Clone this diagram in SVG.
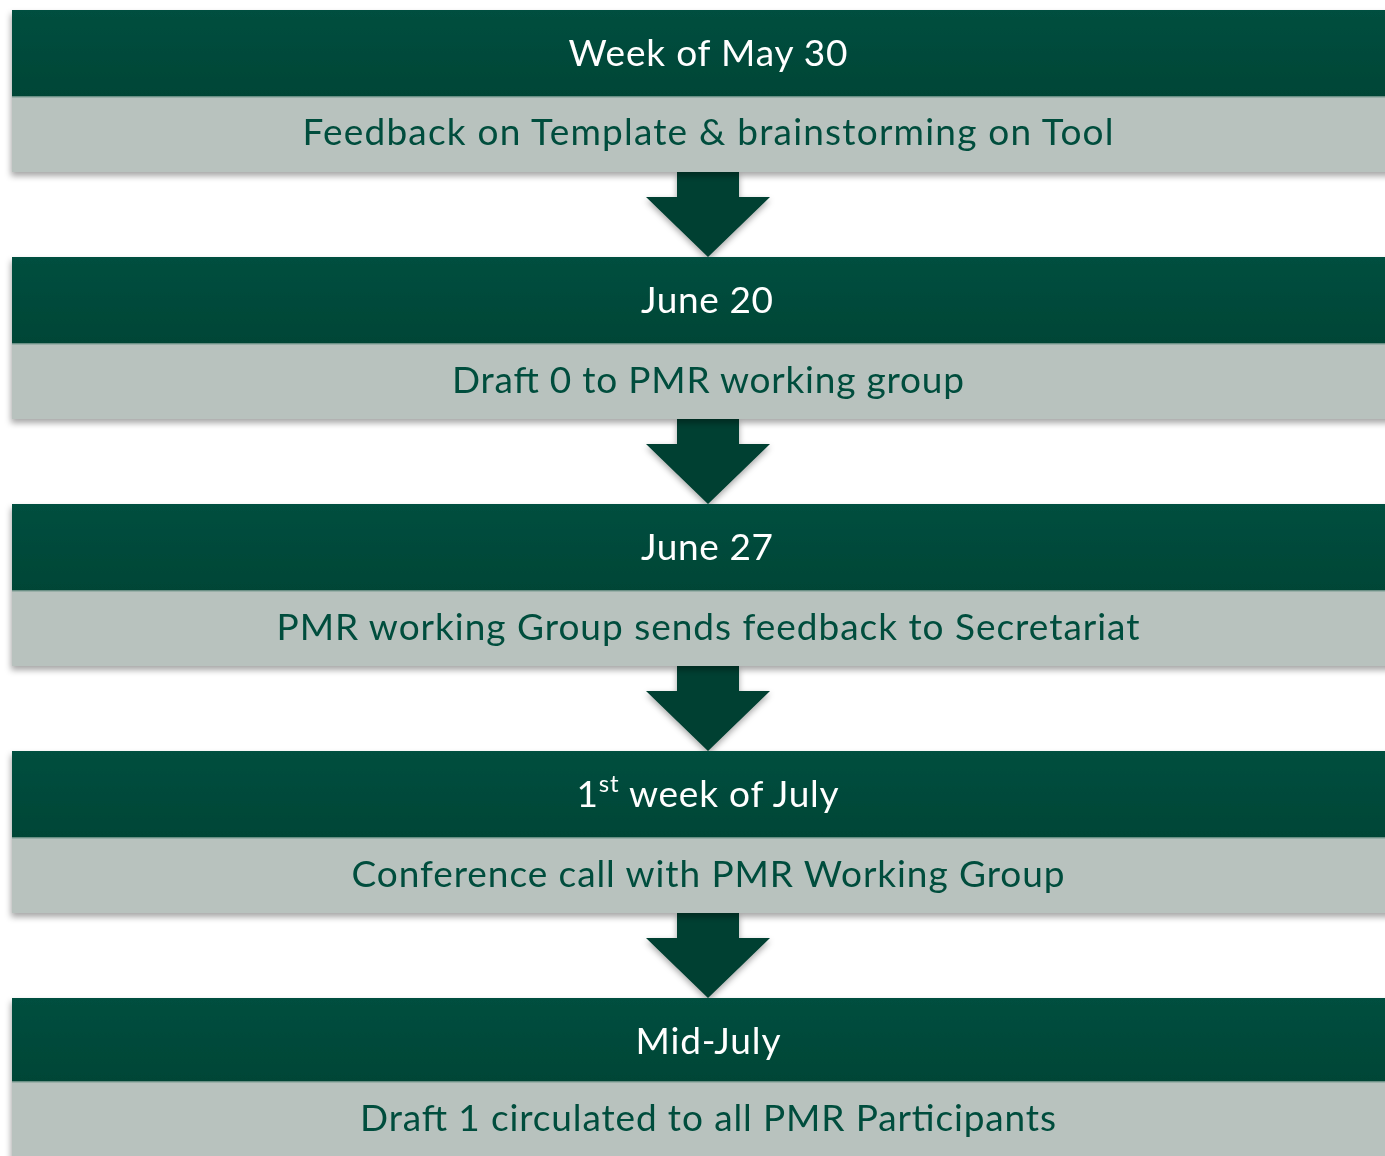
<svg xmlns="http://www.w3.org/2000/svg" width="1385" height="1156" viewBox="0 0 1385 1156">
  <defs>
    <linearGradient id="darkGrad" x1="0" y1="0" x2="0" y2="1">
      <stop offset="0" stop-color="#034F3F"/>
      <stop offset="1" stop-color="#024536"/>
    </linearGradient>
    <filter id="shadow" x="-5%" y="-20%" width="110%" height="150%">
      <feDropShadow dx="-1" dy="4" stdDeviation="3" flood-color="#000" flood-opacity="0.35"/>
    </filter>
    <filter id="arrowShadow" x="-20%" y="-20%" width="140%" height="140%">
      <feDropShadow dx="0" dy="3" stdDeviation="3" flood-color="#000" flood-opacity="0.35"/>
    </filter>
  </defs>
  <style>
    .hdr { fill: url(#darkGrad); }
    .body { fill: #B8C2BE; }
    .sep { stroke: #8FA8A0; stroke-width: 1.5; }
    .hdrText { font-family: Lato, "Open Sans", sans-serif; font-size: 37px; fill: #FFFFFF; text-anchor: middle; }
    .bodyText { font-family: Lato, "Open Sans", sans-serif; font-size: 37px; fill: #024E3E; text-anchor: middle; }
    .arrow { fill: #013F31; }
  </style>
  <rect width="1385" height="1156" fill="#FFFFFF"/>

  <g id="connectors">
    <polygon class="arrow" filter="url(#arrowShadow)" points="677,172 739,172 739,197 770,197 708,257 646,197 677,197"/>
    <polygon class="arrow" filter="url(#arrowShadow)" points="677,419 739,419 739,444 770,444 708,504 646,444 677,444"/>
    <polygon class="arrow" filter="url(#arrowShadow)" points="677,666 739,666 739,691 770,691 708,751 646,691 677,691"/>
    <polygon class="arrow" filter="url(#arrowShadow)" points="677,913 739,913 739,938 770,938 708,998 646,938 677,938"/>
  </g>

  <g id="node1" filter="url(#shadow)">
    <rect class="hdr" x="12" y="10" width="1392" height="87"/>
    <rect class="body" x="12" y="97" width="1392" height="75"/>
    <line class="sep" x1="12" y1="97" x2="1404" y2="97"/>
    <text class="hdrText" x="708" y="66" textLength="279">Week of May 30</text>
    <text class="bodyText" x="708" y="145" textLength="811">Feedback on Template &amp; brainstorming on Tool</text>
  </g>

  <g id="node2" filter="url(#shadow)">
    <rect class="hdr" x="12" y="257" width="1392" height="87"/>
    <rect class="body" x="12" y="344" width="1392" height="75"/>
    <line class="sep" x1="12" y1="344" x2="1404" y2="344"/>
    <text class="hdrText" x="707" y="313" textLength="132">June 20</text>
    <text class="bodyText" x="708" y="393" textLength="512">Draft 0 to PMR working group</text>
  </g>

  <g id="node3" filter="url(#shadow)">
    <rect class="hdr" x="12" y="504" width="1392" height="87"/>
    <rect class="body" x="12" y="591" width="1392" height="75"/>
    <line class="sep" x1="12" y1="591" x2="1404" y2="591"/>
    <text class="hdrText" x="707" y="560" textLength="132">June 27</text>
    <text class="bodyText" x="708" y="640" textLength="863">PMR working Group sends feedback to Secretariat</text>
  </g>

  <g id="node4" filter="url(#shadow)">
    <rect class="hdr" x="12" y="751" width="1392" height="87"/>
    <rect class="body" x="12" y="838" width="1392" height="75"/>
    <line class="sep" x1="12" y1="838" x2="1404" y2="838"/>
    <text class="hdrText" x="708" y="807" letter-spacing="0.8">1<tspan font-size="24" dy="-15">st</tspan><tspan dy="15"> week of July</tspan></text>
    <text class="bodyText" x="708" y="887" textLength="713">Conference call with PMR Working Group</text>
  </g>

  <g id="node5" filter="url(#shadow)">
    <rect class="hdr" x="12" y="998" width="1392" height="84"/>
    <rect class="body" x="12" y="1082" width="1392" height="80"/>
    <line class="sep" x1="12" y1="1082" x2="1404" y2="1082"/>
    <text class="hdrText" x="708" y="1054" textLength="145">Mid-July</text>
    <text class="bodyText" x="708" y="1131" textLength="696">Draft 1 circulated to all PMR Participants</text>
  </g>
</svg>
